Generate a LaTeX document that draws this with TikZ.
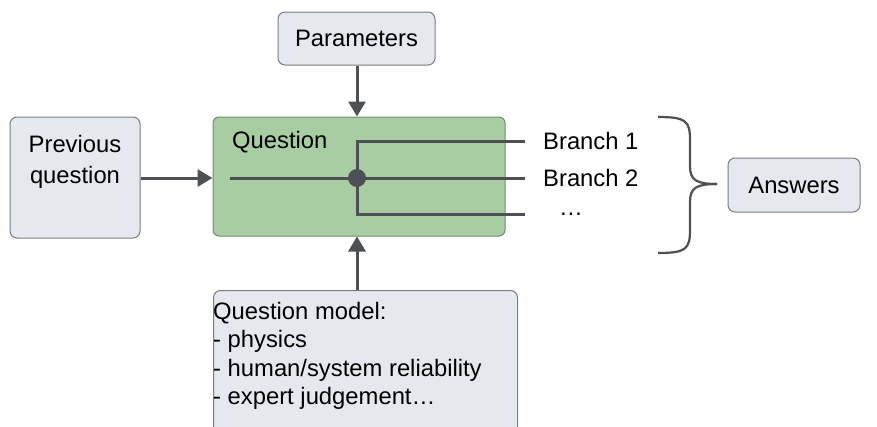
\documentclass[tikz,border=0pt]{standalone}
\usepackage{fontspec}
\setmainfont{Liberation Sans}
\usepackage{xcolor}
\usetikzlibrary{arrows.meta,positioning,calc}
\definecolor{boxgrey}{HTML}{E5E9EF}
\definecolor{edgegrey}{HTML}{7A7E84}
\definecolor{qgreen}{HTML}{A9CDA3}
\definecolor{qgreenedge}{HTML}{6F8D6B}
\definecolor{wiregrey}{HTML}{4D5156}
\tikzset{
  greybox/.style={rounded corners=7pt, draw=edgegrey, fill=boxgrey, line width=1pt, align=center, inner sep=0pt},
  questionbox/.style={rounded corners=6pt, draw=qgreenedge, fill=qgreen, line width=1pt, inner sep=0pt},
  plaintext/.style={inner sep=0pt, align=left},
  flow/.style={-{Triangle[length=15pt, width=17pt]}, line width=3pt, draw=wiregrey},
  wire/.style={line width=3pt, draw=wiregrey},
  bracket/.style={line width=2.2pt, draw=wiregrey}
}

\begin{document}
\begin{tikzpicture}[x=1pt, y=-1pt, font=\fontsize{23.8}{28.5}\selectfont]
  \clip (0,0) rectangle (877,426);
  \fill[white] (0,0) rectangle (877,426);
  % boxes
  \node[greybox, minimum width=157pt, minimum height=53pt] (params) at (356.5,38.5) {Parameters};
  \node[greybox, minimum width=130pt, minimum height=121pt] (prev) at (75,177.5) {};
  \node[plaintext, align=center, anchor=north, font=\fontsize{23.8}{31}\selectfont] (prevtext) at (75,135) {Previous\\question};
  \node[questionbox, minimum width=292pt, minimum height=119pt] (question) at (359,176.5) {};
  \node[plaintext, anchor=west] (qtext) at (232,142) {Question};
  \node[greybox, minimum width=132pt, minimum height=54pt] (answers) at (794,185) {Answers};
  \node[greybox, anchor=north west, minimum width=304pt, minimum height=160pt] (model) at (213,290) {};
  \node[plaintext, anchor=north west] (modeltext) at (213,302) {Question model:\\- physics\\- human/system reliability\\- expert judgement\ldots};
  % branching inside the question
  \coordinate (qin) at (230,178);
  \coordinate (jn) at (357,178);
  \coordinate (b1) at (525,141);
  \coordinate (b2) at (525,178);
  \coordinate (b3) at (525,214);
  \draw[wire] (qin) -- (b2);
  \draw[wire] (b1) -| (jn) |- (b3);
  \fill[wiregrey] (jn) circle (9pt);
  \node[plaintext, right=18pt of b1] (br1) {Branch 1};
  \node[plaintext, right=18pt of b2] (br2) {Branch 2};
  \node[plaintext, right=34pt of b3] (br3) {\ldots};
  % inputs
  \draw[flow] (params.south -| jn) -- (question.north -| jn);
  \draw[flow] (prev.east |- jn) -- (question.west |- jn);
  \draw[flow] (model.north -| jn) -- (question.south -| jn);
  % brace
  \coordinate (bt) at (658,117);
  \coordinate (bb) at (658,253);
  \coordinate (btip) at (717,184);
  \draw[bracket] (bt) .. controls (686,117) and (690,121) .. (690,140) -- (690,166)
    .. controls (690,180) and (696,184) .. (btip);
  \draw[bracket] (bb) .. controls (686,253) and (690,249) .. (690,230) -- (690,202)
    .. controls (690,188) and (696,184) .. (btip);
\end{tikzpicture}
\end{document}
